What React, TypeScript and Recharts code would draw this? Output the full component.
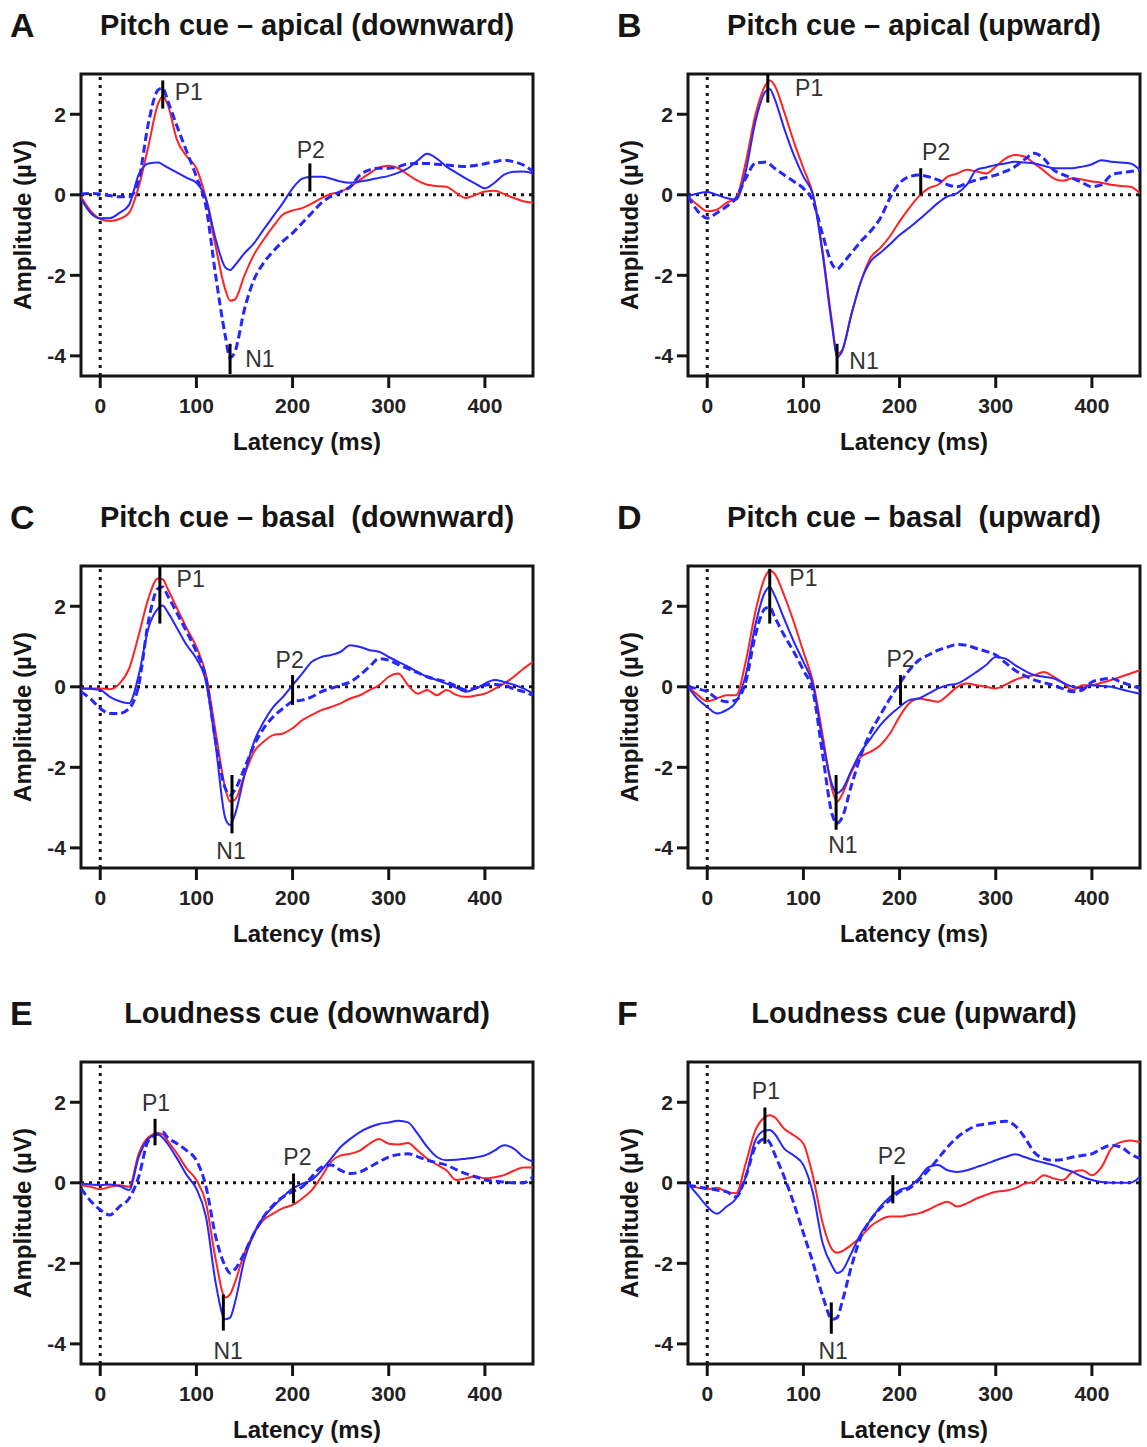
import React from "react";
import {
  LineChart,
  Line,
  XAxis,
  YAxis,
  ReferenceLine,
  ReferenceArea,
  ReferenceDot,
} from "recharts";

// latency samples (ms), shared by every panel
const latency = [
  -20, -10, 0, 10, 20, 30, 40, 50, 60, 65, 70, 80, 90, 100, 110, 120, 130, 135,
  140, 150, 160, 170, 180, 190, 200, 210, 220, 230, 240, 250, 260, 270, 280, 290,
  300, 310, 320, 330, 340, 350, 360, 370, 380, 390, 400, 410, 420, 430, 440, 450,
];

const xTicks = [0, 100, 200, 300, 400];
const yTicks = [-4, -2, 0, 2];

// A - pitch cue, apical, downward
const aRed = [-0.05, -0.4, -0.6, -0.65, -0.6, -0.45, 0.2, 1.2, 2.25, 2.45, 2.25, 1.35, 0.95, 0.66, -0.1, -1.28, -2.35, -2.63, -2.6, -2.0, -1.48, -1.11, -0.78, -0.49, -0.39, -0.33, -0.22, -0.08, 0.02, 0.08, 0.2, 0.37, 0.53, 0.68, 0.72, 0.66, 0.5, 0.35, 0.25, 0.22, 0.2, 0.05, -0.08, 0.0, 0.08, 0.1, 0.02, -0.08, -0.16, -0.2];
const aBlue = [-0.1, -0.45, -0.58, -0.58, -0.45, -0.25, 0.5, 0.78, 0.8, 0.75, 0.68, 0.55, 0.42, 0.3, -0.1, -1.1, -1.8, -1.87, -1.75, -1.45, -1.2, -0.86, -0.53, -0.2, 0.16, 0.4, 0.45, 0.45, 0.4, 0.33, 0.3, 0.33, 0.37, 0.42, 0.47, 0.55, 0.66, 0.85, 1.02, 0.9, 0.7, 0.55, 0.41, 0.28, 0.16, 0.3, 0.5, 0.57, 0.58, 0.53];
const aDashed = [0.02, 0.03, 0.02, -0.02, -0.05, -0.05, 0.37, 1.77, 2.6, 2.65, 2.35, 1.69, 1.07, 0.45, -0.3, -2.0, -3.5, -4.05, -3.9, -2.84, -2.1, -1.69, -1.4, -1.15, -0.95, -0.7, -0.45, -0.2, -0.04, 0.08, 0.2, 0.49, 0.62, 0.66, 0.66, 0.7, 0.77, 0.78, 0.78, 0.76, 0.74, 0.72, 0.7, 0.73, 0.77, 0.82, 0.86, 0.82, 0.74, 0.58];

// B - pitch cue, apical, upward
const bRed = [-0.04, -0.25, -0.41, -0.37, -0.2, -0.08, 0.8, 1.98, 2.7, 2.84, 2.72, 2.06, 1.32, 0.66, 0.0, -1.4, -3.2, -3.95, -3.87, -2.96, -2.14, -1.56, -1.32, -1.03, -0.66, -0.33, -0.04, 0.16, 0.25, 0.45, 0.53, 0.62, 0.58, 0.53, 0.7, 0.9, 0.99, 0.95, 0.78, 0.6, 0.41, 0.35, 0.41, 0.38, 0.33, 0.3, 0.25, 0.22, 0.2, 0.04];
const bBlue = [-0.04, 0.03, 0.07, 0.0, -0.08, -0.12, 0.58, 1.81, 2.55, 2.63, 2.39, 1.65, 0.99, 0.45, 0.0, -1.48, -3.29, -4.03, -3.9, -2.96, -2.14, -1.65, -1.44, -1.23, -1.0, -0.82, -0.62, -0.41, -0.2, -0.04, 0.04, 0.25, 0.62, 0.68, 0.74, 0.78, 0.82, 0.8, 0.78, 0.72, 0.66, 0.66, 0.66, 0.7, 0.76, 0.86, 0.82, 0.8, 0.78, 0.62];
const bDashed = [-0.04, -0.4, -0.58, -0.45, -0.29, -0.08, 0.41, 0.78, 0.81, 0.76, 0.66, 0.49, 0.33, 0.16, -0.16, -0.99, -1.73, -1.85, -1.73, -1.44, -1.15, -0.9, -0.58, -0.08, 0.29, 0.45, 0.49, 0.45, 0.37, 0.25, 0.2, 0.29, 0.37, 0.43, 0.49, 0.58, 0.7, 0.88, 1.03, 0.9, 0.62, 0.5, 0.41, 0.3, 0.2, 0.25, 0.49, 0.55, 0.58, 0.62];

// C - pitch cue, basal, downward
const cRed = [-0.04, -0.04, -0.04, -0.06, 0.08, 0.45, 1.28, 2.19, 2.69, 2.67, 2.44, 1.94, 1.45, 0.99, 0.29, -1.12, -2.52, -2.85, -2.81, -2.19, -1.61, -1.36, -1.2, -1.16, -1.03, -0.83, -0.7, -0.58, -0.5, -0.41, -0.29, -0.21, -0.08, 0.04, 0.25, 0.33, 0.04, -0.17, -0.08, -0.21, -0.08, -0.2, -0.25, -0.22, -0.17, -0.05, 0.08, 0.25, 0.45, 0.62];
const cBlue = [-0.04, -0.05, -0.08, -0.25, -0.36, -0.41, 0.29, 1.45, 1.94, 2.02, 1.86, 1.45, 1.03, 0.7, 0.12, -1.45, -3.26, -3.43, -3.18, -2.19, -1.36, -0.87, -0.5, -0.25, 0.04, 0.33, 0.62, 0.74, 0.79, 0.87, 1.03, 0.99, 0.91, 0.87, 0.74, 0.62, 0.5, 0.37, 0.25, 0.17, 0.08, -0.02, -0.12, -0.05, 0.08, 0.17, 0.12, 0.05, -0.04, -0.17];
const cDashed = [-0.12, -0.3, -0.54, -0.66, -0.66, -0.54, 0.04, 1.61, 2.44, 2.48, 2.27, 1.82, 1.36, 0.87, 0.21, -1.36, -2.52, -2.69, -2.56, -2.02, -1.45, -1.03, -0.74, -0.54, -0.37, -0.33, -0.25, -0.12, -0.04, 0.04, 0.12, 0.29, 0.5, 0.7, 0.66, 0.55, 0.45, 0.35, 0.25, 0.18, 0.12, 0.02, -0.08, -0.03, 0.04, 0.06, 0.04, -0.05, -0.12, -0.21];

// D - pitch cue, basal, upward
const dRed = [0.0, -0.2, -0.36, -0.29, -0.21, -0.21, 0.62, 1.86, 2.72, 2.89, 2.81, 2.27, 1.61, 0.87, 0.12, -1.2, -2.56, -2.85, -2.69, -2.11, -1.74, -1.61, -1.45, -1.16, -0.74, -0.41, -0.29, -0.33, -0.37, -0.21, 0.0, 0.08, 0.04, 0.0, -0.04, 0.05, 0.17, 0.25, 0.29, 0.37, 0.25, 0.1, -0.08, 0.04, 0.04, 0.1, 0.17, 0.25, 0.33, 0.41];
const dBlue = [0.0, -0.3, -0.5, -0.66, -0.58, -0.37, 0.29, 1.53, 2.35, 2.48, 2.27, 1.69, 1.12, 0.62, 0.04, -1.36, -2.44, -2.64, -2.56, -2.07, -1.61, -1.28, -0.95, -0.7, -0.5, -0.33, -0.29, -0.17, -0.04, 0.04, 0.08, 0.21, 0.37, 0.54, 0.74, 0.7, 0.54, 0.4, 0.29, 0.25, 0.21, 0.1, 0.0, -0.03, 0.04, 0.02, 0.0, -0.06, -0.12, -0.17];
const dDashed = [0.0, -0.05, -0.12, -0.29, -0.37, -0.33, 0.12, 1.28, 1.94, 1.98, 1.74, 1.28, 0.87, 0.41, -0.12, -1.69, -3.18, -3.39, -3.26, -2.44, -1.69, -1.12, -0.7, -0.29, 0.08, 0.41, 0.66, 0.79, 0.91, 0.99, 1.05, 1.03, 0.95, 0.88, 0.79, 0.6, 0.41, 0.28, 0.17, 0.1, 0.04, -0.05, -0.12, -0.08, 0.12, 0.18, 0.21, 0.12, 0.04, -0.04];

// E - loudness cue, downward
const eRed = [-0.06, -0.1, -0.16, -0.1, -0.06, -0.1, 0.72, 1.13, 1.23, 1.2, 1.05, 0.72, 0.35, 0.07, -0.51, -1.9, -2.85, -2.77, -2.48, -1.74, -1.25, -0.92, -0.76, -0.63, -0.55, -0.39, -0.18, 0.15, 0.52, 0.68, 0.72, 0.8, 0.97, 1.09, 0.97, 0.95, 0.99, 0.8, 0.6, 0.45, 0.31, 0.07, 0.11, 0.16, 0.11, 0.14, 0.19, 0.3, 0.38, 0.38];
const eBlue = [-0.02, -0.04, -0.06, -0.04, -0.08, -0.18, 0.64, 1.09, 1.2, 1.12, 0.97, 0.6, 0.19, -0.15, -0.85, -2.48, -3.39, -3.35, -2.98, -1.9, -1.25, -0.84, -0.59, -0.35, -0.14, -0.02, 0.07, 0.31, 0.6, 0.89, 1.09, 1.26, 1.38, 1.46, 1.5, 1.54, 1.5, 1.22, 0.89, 0.64, 0.56, 0.57, 0.6, 0.63, 0.68, 0.8, 0.93, 0.85, 0.64, 0.52];
const eDashed = [-0.14, -0.45, -0.67, -0.8, -0.59, -0.39, 0.15, 1.05, 1.22, 1.26, 1.13, 0.97, 0.8, 0.56, -0.1, -1.33, -2.07, -2.24, -2.15, -1.74, -1.25, -0.84, -0.55, -0.35, -0.22, -0.1, 0.15, 0.39, 0.44, 0.31, 0.23, 0.27, 0.39, 0.52, 0.64, 0.7, 0.72, 0.65, 0.56, 0.5, 0.44, 0.33, 0.23, 0.15, 0.07, 0.04, 0.02, 0.0, 0.0, 0.15];

// F - loudness cue, upward
const fRed = [-0.06, -0.12, -0.16, -0.12, -0.22, -0.26, 0.48, 1.3, 1.63, 1.68, 1.63, 1.34, 1.18, 0.97, 0.15, -1.0, -1.66, -1.74, -1.7, -1.54, -1.33, -1.08, -0.92, -0.84, -0.84, -0.8, -0.76, -0.67, -0.55, -0.47, -0.59, -0.51, -0.39, -0.3, -0.22, -0.2, -0.14, -0.02, 0.02, 0.19, 0.11, 0.07, 0.27, 0.31, 0.19, 0.39, 0.85, 1.01, 1.05, 1.01];
const fBlue = [-0.02, -0.3, -0.59, -0.77, -0.59, -0.39, 0.15, 1.05, 1.3, 1.31, 1.22, 0.85, 0.68, 0.44, -0.26, -1.5, -2.07, -2.24, -2.19, -1.74, -1.25, -0.92, -0.59, -0.35, -0.18, -0.1, 0.11, 0.39, 0.44, 0.31, 0.27, 0.31, 0.39, 0.47, 0.56, 0.64, 0.71, 0.64, 0.56, 0.5, 0.44, 0.35, 0.27, 0.15, 0.07, 0.02, 0.0, 0.0, 0.0, 0.15];
const fDashed = [-0.06, -0.1, -0.14, -0.18, -0.22, -0.35, 0.15, 0.89, 1.09, 1.0, 0.72, 0.15, -0.51, -1.25, -1.99, -2.81, -3.39, -3.35, -2.98, -2.07, -1.33, -0.92, -0.63, -0.43, -0.22, -0.14, 0.07, 0.31, 0.6, 0.89, 1.13, 1.3, 1.42, 1.46, 1.5, 1.53, 1.42, 1.13, 0.76, 0.6, 0.56, 0.58, 0.64, 0.68, 0.72, 0.85, 0.93, 0.89, 0.72, 0.6];

// peak markers: tick segment (x, y1..y2) and label centre (lx, ly)
const markersA = [
  { label: "P1", x: 65, y1: 2.14, y2: 2.84, lx: 92, ly: 2.55 },
  { label: "N1", x: 135, y1: -3.7, y2: -4.45, lx: 166, ly: -4.07 },
  { label: "P2", x: 218, y1: 0.08, y2: 0.78, lx: 219, ly: 1.11 },
];
const markersB = [
  { label: "P1", x: 63, y1: 2.29, y2: 3.0, lx: 106, ly: 2.65 },
  { label: "N1", x: 135, y1: -3.7, y2: -4.45, lx: 163, ly: -4.12 },
  { label: "P2", x: 222, y1: 0.0, y2: 0.66, lx: 238, ly: 1.07 },
];
const markersC = [
  { label: "P1", x: 62, y1: 1.57, y2: 3.0, lx: 94, ly: 2.67 },
  { label: "N1", x: 137, y1: -2.19, y2: -3.64, lx: 136, ly: -4.09 },
  { label: "P2", x: 200, y1: -0.45, y2: 0.29, lx: 197, ly: 0.66 },
];
const markersD = [
  { label: "P1", x: 65, y1: 1.57, y2: 2.93, lx: 100, ly: 2.69 },
  { label: "N1", x: 134, y1: -2.19, y2: -3.55, lx: 141, ly: -3.94 },
  { label: "P2", x: 201, y1: -0.45, y2: 0.29, lx: 201, ly: 0.7 },
];
const markersE = [
  { label: "P1", x: 57, y1: 0.93, y2: 1.59, lx: 58, ly: 1.97 },
  { label: "N1", x: 128, y1: -2.77, y2: -3.67, lx: 133, ly: -4.17 },
  { label: "P2", x: 201, y1: -0.51, y2: 0.23, lx: 205, ly: 0.64 },
];
const markersF = [
  { label: "P1", x: 60, y1: 0.97, y2: 1.87, lx: 61, ly: 2.28 },
  { label: "N1", x: 129, y1: -2.97, y2: -3.75, lx: 131, ly: -4.17 },
  { label: "P2", x: 193, y1: -0.51, y2: 0.19, lx: 192, ly: 0.66 },
];

const panels = [
  { letter: "A", title: "Pitch cue – apical (downward)", red: aRed, blue: aBlue, dashed: aDashed, markers: markersA, col: 0, row: 0 },
  { letter: "B", title: "Pitch cue – apical (upward)", red: bRed, blue: bBlue, dashed: bDashed, markers: markersB, col: 1, row: 0 },
  { letter: "C", title: "Pitch cue – basal  (downward)", red: cRed, blue: cBlue, dashed: cDashed, markers: markersC, col: 0, row: 1 },
  { letter: "D", title: "Pitch cue – basal  (upward)", red: dRed, blue: dBlue, dashed: dDashed, markers: markersD, col: 1, row: 1 },
  { letter: "E", title: "Loudness cue (downward)", red: eRed, blue: eBlue, dashed: eDashed, markers: markersE, col: 0, row: 2 },
  { letter: "F", title: "Loudness cue (upward)", red: fRed, blue: fBlue, dashed: fDashed, markers: markersF, col: 1, row: 2 },
];

const FONT = '"Liberation Sans", Arial, Helvetica, sans-serif';
const RED = "#ff2323";
const BLUE = "#2626ff";
const INK = "#151515";

const PLOT_W = 452;
const PLOT_H = 302;
const colLeft = [81, 688];
const rowTop = [74, 566, 1062];
const M_LEFT = 12;
const Y_W = 60;
const M_TOP = 10;
const X_H = 50;

function Panel({ panel }: { panel: (typeof panels)[number] }) {
  const left = colLeft[panel.col];
  const top = rowTop[panel.row];
  const data = latency.map((t, i) => ({
    t,
    red: panel.red[i],
    blue: panel.blue[i],
    dashed: panel.dashed[i],
  }));
  const cx = left + PLOT_W / 2;

  return (
    <>
      <div
        style={{
          position: "absolute",
          left: left - 71,
          top: top - 68,
          fontSize: 34,
          fontWeight: 700,
          lineHeight: "38px",
          color: INK,
        }}
      >
        {panel.letter}
      </div>
      <div
        style={{
          position: "absolute",
          left: cx - 300,
          width: 600,
          top: top - 67,
          textAlign: "center",
          fontSize: 29,
          fontWeight: 700,
          lineHeight: "36px",
          whiteSpace: "pre",
          color: INK,
        }}
      >
        {panel.title}
      </div>
      <div
        style={{
          position: "absolute",
          left: cx,
          top: top + PLOT_H + 66,
          transform: "translate(-50%, -50%)",
          fontSize: 24,
          fontWeight: 700,
          whiteSpace: "nowrap",
          color: INK,
        }}
      >
        Latency (ms)
      </div>
      <div
        style={{
          position: "absolute",
          left: left - 58,
          top: top + PLOT_H / 2,
          transform: "translate(-50%, -50%) rotate(-90deg)",
          fontSize: 24,
          fontWeight: 700,
          whiteSpace: "nowrap",
          color: INK,
        }}
      >
        Amplitude (µV)
      </div>
      <div
        style={{
          position: "absolute",
          left: left - M_LEFT - Y_W,
          top: top - M_TOP,
        }}
      >
        <LineChart
          width={M_LEFT + Y_W + PLOT_W + 10}
          height={M_TOP + PLOT_H + X_H + 10}
          data={data}
          margin={{ top: M_TOP, right: 10, bottom: 10, left: M_LEFT }}
        >
          <XAxis
            type="number"
            dataKey="t"
            domain={[-20, 450]}
            ticks={xTicks}
            allowDataOverflow
            height={X_H}
            axisLine={false}
            tickLine={{ stroke: INK, strokeWidth: 3 }}
            tickSize={12}
            tickMargin={10}
            tick={{ fontSize: 21, fontWeight: 700, fill: "#222", fontFamily: FONT }}
          />
          <YAxis
            type="number"
            domain={[-4.5, 3]}
            ticks={yTicks}
            allowDataOverflow
            width={Y_W}
            axisLine={false}
            tickLine={{ stroke: INK, strokeWidth: 3 }}
            tickSize={11}
            tickMargin={4}
            tick={{ fontSize: 21, fontWeight: 700, fill: "#222", fontFamily: FONT }}
          />
          <ReferenceLine
            y={0}
            stroke={INK}
            strokeWidth={3}
            strokeDasharray="3 5"
          />
          <ReferenceLine
            x={0}
            stroke={INK}
            strokeWidth={3}
            strokeDasharray="3 5"
          />
          <Line
            type="monotone"
            dataKey="red"
            stroke={RED}
            strokeWidth={2}
            dot={false}
            isAnimationActive={false}
          />
          <Line
            type="monotone"
            dataKey="dashed"
            stroke={BLUE}
            strokeWidth={3}
            strokeDasharray="8 4"
            dot={false}
            isAnimationActive={false}
          />
          <Line
            type="monotone"
            dataKey="blue"
            stroke={BLUE}
            strokeWidth={2}
            dot={false}
            isAnimationActive={false}
          />
          {panel.markers.map((m) => (
            <ReferenceLine
              key={`seg-${m.label}`}
              segment={[
                { x: m.x, y: m.y1 },
                { x: m.x, y: m.y2 },
              ]}
              stroke="#000"
              strokeWidth={3}
              ifOverflow="visible"
            />
          ))}
          {panel.markers.map((m) => (
            <ReferenceDot
              key={`lab-${m.label}`}
              x={m.lx}
              y={m.ly}
              r={0}
              ifOverflow="visible"
              shape={(p: any) => (
                <text
                  x={p.cx}
                  y={p.cy}
                  textAnchor="middle"
                  dominantBaseline="central"
                  fontSize={23}
                  fontFamily={FONT}
                  fill="#333"
                >
                  {m.label}
                </text>
              )}
            />
          ))}
          <ReferenceArea
            x1={-20}
            x2={450}
            y1={-4.5}
            y2={3}
            fill="none"
            fillOpacity={0}
            stroke={INK}
            strokeWidth={3}
            ifOverflow="visible"
          />
        </LineChart>
      </div>
    </>
  );
}

export default function App() {
  return (
    <div
      style={{
        position: "absolute",
        left: 0,
        top: 0,
        width: 1147,
        height: 1447,
        background: "#fff",
        fontFamily: FONT,
        overflow: "hidden",
      }}
    >
      {panels.map((p) => (
        <Panel key={p.letter} panel={p} />
      ))}
    </div>
  );
}
